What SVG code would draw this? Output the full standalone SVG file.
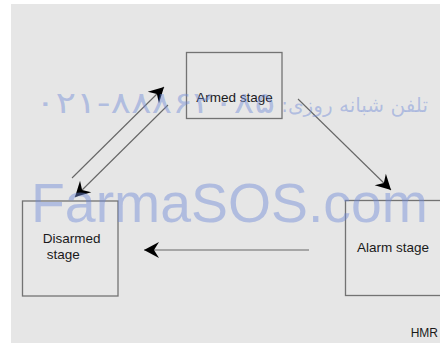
<svg xmlns="http://www.w3.org/2000/svg" width="440" height="343" viewBox="0 0 440 343">
<style>
.box{fill:#e7e7e7;stroke:#737373;stroke-width:1.3}
.lbl{font-family:"Liberation Sans",Arial,Helvetica,sans-serif;font-size:13.5px;fill:#1a1a1a}
.conn{stroke:#666;stroke-width:1.1;fill:none;marker-end:url(#ah)}
.wm{fill:#6f8ad8;fill-opacity:0.45}
</style>
<defs>
<marker id="ah" markerUnits="userSpaceOnUse" markerWidth="20" markerHeight="20" viewBox="-16 -10 20 20" refX="0" refY="0" orient="auto">
<path d="M0,0 L-15,-8 L-10,0 L-15,8 z" fill="#000"/>
</marker>
</defs>
<rect x="0" y="0" width="440" height="343" fill="#fff"/>
<rect x="11" y="4" width="429" height="339" fill="#e6e6e6"/>
<g id="armed">
<rect class="box" x="186.5" y="52.5" width="95.5" height="66"/>
<text class="lbl" x="234.5" y="102" text-anchor="middle">Armed stage</text>
</g>
<g id="disarmed">
<rect class="box" x="22.5" y="201" width="95.5" height="95"/>
<text class="lbl" x="42.7" y="243">Disarmed</text>
<text class="lbl" x="46.7" y="259">stage</text>
</g>
<g id="alarm">
<rect class="box" x="345.5" y="200.5" width="96" height="95"/>
<text class="lbl" x="357" y="251.5">Alarm stage</text>
</g>
<g id="connectors">
<line class="conn" x1="72" y1="178" x2="164" y2="87"/>
<line class="conn" x1="168" y1="105" x2="75" y2="197"/>
<line class="conn" x1="298" y1="99" x2="391" y2="190"/>
<line class="conn" x1="309" y1="250" x2="144" y2="250"/>
</g>
<text x="410.7" y="336.5" font-family="'Liberation Sans',Arial,sans-serif" font-size="12" fill="#1a1a1a">HMR</text>
<g id="watermark">
<text class="wm" x="31" y="222" font-family="'Liberation Sans',Arial,sans-serif" font-size="55" textLength="397" lengthAdjust="spacingAndGlyphs">FarmaSOS.com</text>
<text class="wm" x="35" y="113" font-family="'DejaVu Sans',sans-serif" font-size="30" textLength="240" lengthAdjust="spacingAndGlyphs" direction="ltr">۰۲۱-۸۸۸۶۲۰۸۵</text>
<text class="wm" x="428" y="112" font-family="'DejaVu Sans','Noto Sans',sans-serif" font-size="20" direction="rtl" unicode-bidi="embed" text-anchor="start">تلفن شبانه روزی:</text>
</g>
</svg>
